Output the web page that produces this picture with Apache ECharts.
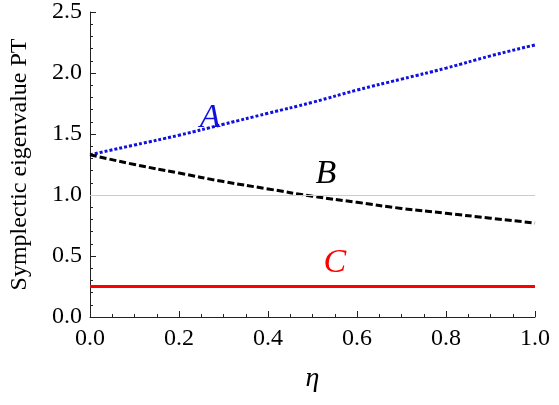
<!DOCTYPE html>
<html>
<head>
<meta charset="utf-8">
<script src="https://cdn.jsdelivr.net/npm/echarts@6/dist/echarts.min.js"></script>
<style>html,body{margin:0;padding:0;background:#fff}#main{width:559px;height:405px}</style>
</head>
<body>
<div id="main"></div>
<script>
const etaValues = [0, 0.1, 0.2, 0.3, 0.4, 0.5, 0.6, 0.7, 0.8, 0.9, 1.0];
const seriesA = [1.33, 1.41, 1.49, 1.58, 1.67, 1.76, 1.86, 1.95, 2.04, 2.14, 2.23];
const seriesB = [1.33, 1.25, 1.18, 1.11, 1.05, 0.99, 0.94, 0.89, 0.85, 0.81, 0.77];
const seriesC = [0.25, 0.25, 0.25, 0.25, 0.25, 0.25, 0.25, 0.25, 0.25, 0.25, 0.25];
const curveLabels = [
  { name: 'A', x: 0.27, y: 1.63, color: '#1010e0' },
  { name: 'B', x: 0.53, y: 1.17, color: '#000' },
  { name: 'C', x: 0.55, y: 0.44, color: '#f00' }
];

const font = '"Liberation Serif", "Times New Roman", serif';
const pairs = vals => etaValues.map((e, i) => [e, vals[i]]);

const chart = echarts.init(document.getElementById('main'));
chart.setOption({
  animation: false,
  grid: { left: 83, right: 24, top: 8, bottom: 88 },
  xAxis: {
    type: 'value', min: 0, max: 1, interval: 0.2,
    name: 'η', nameLocation: 'middle', nameGap: 48,
    nameTextStyle: { fontFamily: font, fontSize: 28, fontStyle: 'italic', color: '#000' },
    axisLine: { lineStyle: { color: '#222' } },
    axisTick: { inside: true, length: 6, lineStyle: { color: '#222' } },
    minorTick: { show: true, splitNumber: 4, length: 3 },
    axisLabel: { fontFamily: font, fontSize: 24, color: '#000', margin: 10, formatter: v => v.toFixed(1) },
    splitLine: { show: false }
  },
  yAxis: {
    type: 'value', min: 0, max: 2.5, interval: 0.5,
    name: 'Symplectic eigenvalue PT', nameLocation: 'middle', nameGap: 58,
    nameTextStyle: { fontFamily: font, fontSize: 24, color: '#000' },
    axisLine: { show: true, lineStyle: { color: '#222' } },
    axisTick: { show: true, inside: true, length: 6, lineStyle: { color: '#222' } },
    minorTick: { show: true, splitNumber: 5, length: 3 },
    axisLabel: { fontFamily: font, fontSize: 24, color: '#000', margin: 8, formatter: v => v.toFixed(1) },
    splitLine: { show: false }
  },
  series: [
    { type: 'line', data: pairs(seriesA), showSymbol: false, smooth: true,
      lineStyle: { color: '#1010e0', width: 3, type: [3, 2] } },
    { type: 'line', data: pairs(seriesB), showSymbol: false, smooth: true,
      lineStyle: { color: '#000', width: 3, type: [7, 3] } },
    { type: 'line', data: pairs(seriesC), showSymbol: false,
      lineStyle: { color: '#f00', width: 3 },
      markLine: { silent: true, symbol: 'none', label: { show: false },
        lineStyle: { color: '#ccc', width: 1, type: 'solid' }, data: [{ yAxis: 1.0 }] } },
    { type: 'scatter', symbolSize: 1, itemStyle: { opacity: 0 }, z: 10,
      data: curveLabels.map(l => ({ value: [l.x, l.y],
        label: { show: true, position: 'inside', formatter: l.name, color: l.color, opacity: 1,
          fontFamily: font, fontSize: 34, fontStyle: 'italic' } })) }
  ]
});
</script>
</body>
</html>
